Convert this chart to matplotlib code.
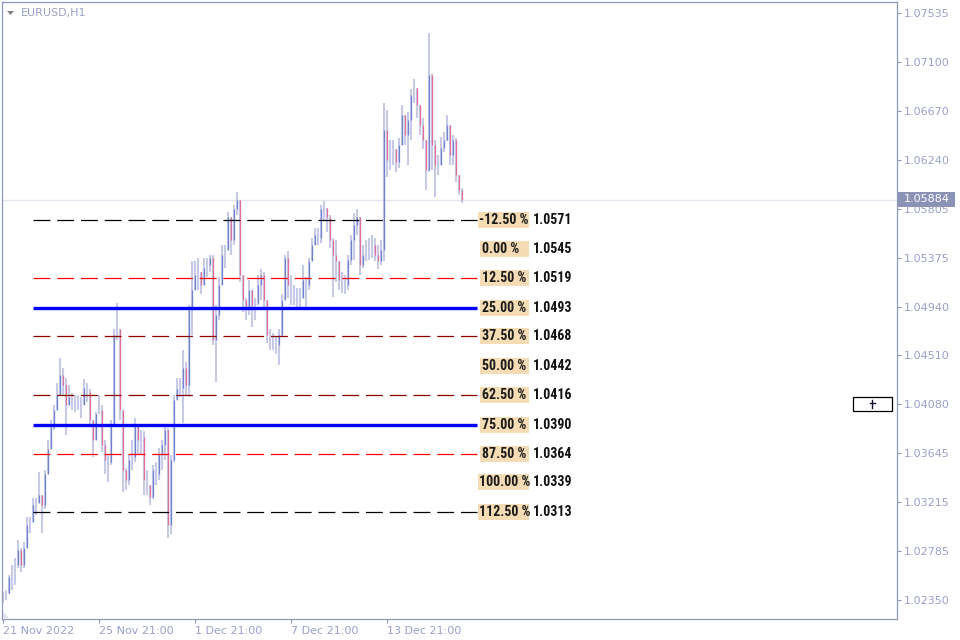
import matplotlib
matplotlib.use("Agg")
import matplotlib.pyplot as plt
from matplotlib.patches import Rectangle, Polygon
from matplotlib import font_manager
import numpy as np

# ---------------- data (EURUSD H1, sampled every 3 hours) ----------------
hours_per_bar = 3
first_open = 1.0235
highs = [1.0242, 1.0244, 1.0257, 1.0266, 1.0272, 1.0288, 1.0281, 1.0286, 1.0308, 1.0308,
         1.0325, 1.0325, 1.0348, 1.0328, 1.0350, 1.0376, 1.0394, 1.0407, 1.0427, 1.0449,
         1.0440, 1.0431, 1.0425, 1.0418, 1.0416, 1.0416, 1.0414, 1.0430, 1.0427, 1.0421,
         1.0390, 1.0401, 1.0416, 1.0407, 1.0376, 1.0363, 1.0394, 1.0474, 1.0497, 1.0474,
         1.0400, 1.0352, 1.0363, 1.0376, 1.0396, 1.0390, 1.0385, 1.0384, 1.0350, 1.0337,
         1.0354, 1.0357, 1.0369, 1.0376, 1.0390, 1.0387, 1.0363, 1.0416, 1.0431, 1.0431,
         1.0456, 1.0445, 1.0496, 1.0534, 1.0534, 1.0537, 1.0522, 1.0537, 1.0537, 1.0540,
         1.0540, 1.0496, 1.0520, 1.0549, 1.0549, 1.0578, 1.0573, 1.0584, 1.0595, 1.0588,
         1.0513, 1.0502, 1.0518, 1.0509, 1.0502, 1.0522, 1.0527, 1.0525, 1.0500, 1.0474,
         1.0471, 1.0467, 1.0474, 1.0505, 1.0540, 1.0543, 1.0522, 1.0513, 1.0511, 1.0511,
         1.0531, 1.0520, 1.0537, 1.0555, 1.0564, 1.0564, 1.0584, 1.0587, 1.0581, 1.0575,
         1.0555, 1.0553, 1.0531, 1.0525, 1.0522, 1.0540, 1.0557, 1.0577, 1.0580, 1.0571,
         1.0549, 1.0553, 1.0555, 1.0557, 1.0555, 1.0549, 1.0553, 1.0674, 1.0668, 1.0641,
         1.0641, 1.0633, 1.0643, 1.0672, 1.0663, 1.0666, 1.0686, 1.0695, 1.0687, 1.0668,
         1.0661, 1.0633, 1.0736, 1.0700, 1.0641, 1.0628, 1.0644, 1.0648, 1.0663, 1.0655,
         1.0646, 1.0643, 1.0610, 1.0599]
lows = [1.0232, 1.0235, 1.0240, 1.0244, 1.0248, 1.0263, 1.0260, 1.0263, 1.0284, 1.0294,
        1.0304, 1.0310, 1.0324, 1.0294, 1.0315, 1.0346, 1.0368, 1.0385, 1.0403, 1.0421,
        1.0416, 1.0381, 1.0407, 1.0403, 1.0401, 1.0403, 1.0396, 1.0412, 1.0410, 1.0390,
        1.0361, 1.0376, 1.0399, 1.0366, 1.0346, 1.0339, 1.0354, 1.0390, 1.0465, 1.0394,
        1.0330, 1.0332, 1.0337, 1.0350, 1.0357, 1.0363, 1.0363, 1.0328, 1.0328, 1.0319,
        1.0324, 1.0337, 1.0341, 1.0350, 1.0359, 1.0290, 1.0293, 1.0357, 1.0412, 1.0414,
        1.0391, 1.0416, 1.0414, 1.0469, 1.0509, 1.0509, 1.0505, 1.0518, 1.0520, 1.0525,
        1.0460, 1.0428, 1.0482, 1.0527, 1.0528, 1.0553, 1.0540, 1.0549, 1.0575, 1.0516,
        1.0489, 1.0482, 1.0487, 1.0476, 1.0482, 1.0496, 1.0500, 1.0493, 1.0462, 1.0456,
        1.0456, 1.0452, 1.0443, 1.0467, 1.0500, 1.0502, 1.0496, 1.0496, 1.0493, 1.0493,
        1.0505, 1.0491, 1.0509, 1.0534, 1.0549, 1.0549, 1.0550, 1.0571, 1.0560, 1.0546,
        1.0503, 1.0516, 1.0509, 1.0506, 1.0505, 1.0509, 1.0531, 1.0535, 1.0557, 1.0522,
        1.0528, 1.0534, 1.0535, 1.0537, 1.0534, 1.0527, 1.0531, 1.0534, 1.0609, 1.0615,
        1.0619, 1.0613, 1.0617, 1.0641, 1.0637, 1.0619, 1.0641, 1.0674, 1.0661, 1.0646,
        1.0633, 1.0597, 1.0613, 1.0615, 1.0591, 1.0610, 1.0624, 1.0631, 1.0640, 1.0619,
        1.0619, 1.0604, 1.0593, 1.0586]
closes = [1.0238, 1.0241, 1.0255, 1.0260, 1.0266, 1.0279, 1.0266, 1.0281, 1.0301, 1.0304,
          1.0319, 1.0321, 1.0328, 1.0319, 1.0346, 1.0368, 1.0388, 1.0403, 1.0416, 1.0434,
          1.0425, 1.0407, 1.0414, 1.0410, 1.0407, 1.0410, 1.0407, 1.0422, 1.0419, 1.0394,
          1.0376, 1.0399, 1.0403, 1.0372, 1.0359, 1.0357, 1.0390, 1.0469, 1.0474, 1.0403,
          1.0350, 1.0341, 1.0359, 1.0361, 1.0390, 1.0376, 1.0379, 1.0341, 1.0337, 1.0326,
          1.0350, 1.0346, 1.0363, 1.0372, 1.0385, 1.0301, 1.0359, 1.0412, 1.0421, 1.0422,
          1.0440, 1.0425, 1.0491, 1.0509, 1.0522, 1.0525, 1.0513, 1.0528, 1.0531, 1.0537,
          1.0465, 1.0487, 1.0513, 1.0540, 1.0544, 1.0573, 1.0553, 1.0580, 1.0588, 1.0522,
          1.0500, 1.0493, 1.0509, 1.0496, 1.0497, 1.0513, 1.0522, 1.0500, 1.0469, 1.0465,
          1.0460, 1.0460, 1.0469, 1.0500, 1.0537, 1.0513, 1.0507, 1.0502, 1.0500, 1.0502,
          1.0518, 1.0513, 1.0534, 1.0549, 1.0557, 1.0555, 1.0580, 1.0581, 1.0573, 1.0553,
          1.0540, 1.0534, 1.0518, 1.0513, 1.0513, 1.0535, 1.0553, 1.0566, 1.0573, 1.0531,
          1.0540, 1.0544, 1.0546, 1.0549, 1.0540, 1.0534, 1.0544, 1.0650, 1.0624, 1.0628,
          1.0633, 1.0622, 1.0637, 1.0663, 1.0646, 1.0659, 1.0681, 1.0687, 1.0672, 1.0655,
          1.0641, 1.0615, 1.0699, 1.0637, 1.0619, 1.0619, 1.0634, 1.0641, 1.0655, 1.0628,
          1.0641, 1.0610, 1.0597, 1.05884]

time_tick_hours = [0, 96, 192, 288, 384]
time_tick_labels = ["21 Nov 2022", "25 Nov 21:00", "1 Dec 21:00", "7 Dec 21:00", "13 Dec 21:00"]

price_ticks = [1.07535, 1.07100, 1.06670, 1.06240, 1.05805, 1.05375, 1.04940,
               1.04510, 1.04080, 1.03645, 1.03215, 1.02785, 1.02350]
price_tick_labels = ["1.07535", "1.07100", "1.06670", "1.06240", "1.05805", "1.05375", "1.04940",
                     "1.04510", "1.04080", "1.03645", "1.03215", "1.02785", "1.02350"]

level_labels = ["-12.50 %", "0.00 %", "12.50 %", "25.00 %", "37.50 %", "50.00 %",
                "62.50 %", "75.00 %", "87.50 %", "100.00 %", "112.50 %"]
level_prices = [1.0571, 1.0545, 1.0519, 1.0493, 1.0468, 1.0442, 1.0416, 1.0390, 1.0364, 1.0339, 1.0313]
level_value_labels = ["1.0571", "1.0545", "1.0519", "1.0493", "1.0468", "1.0442",
                      "1.0416", "1.0390", "1.0364", "1.0339", "1.0313"]
last_price = closes[-1]
last_price_label = "1.05884"
symbol_label = "EURUSD,H1"

# ---------------- styles ----------------
level_colors = ["#000000", None, "#ff0000", "#0000ff", "#8b0000", None,
                "#8b0000", "#0000ff", "#ff0000", None, "#000000"]
W, H = 960, 640
FRAME = "#8f98b8"
TXT = "#9aa0c8"
WICK = "#c6cae6"
BULL = "#6f82d0"
BEAR = "#e0709a"

installed = {f.name for f in font_manager.fontManager.ttflist}
if "Roboto Condensed" in installed:
    lab_font, lab_size = ["Roboto Condensed", "DejaVu Sans"], 10.0
elif "Liberation Sans Narrow" in installed:
    lab_font, lab_size = ["Liberation Sans Narrow", "DejaVu Sans"], 10.0
else:
    lab_font, lab_size = ["Roboto", "DejaVu Sans"], 8.6

fig = plt.figure(figsize=(W / 100, H / 100), dpi=100)
fig.patch.set_facecolor("white")
L, R, T, B = 2, 897, 2, 619
ax = fig.add_axes([L / W, 1 - B / H, (R - L) / W, (B - T) / H])
ax.set_facecolor("white")

ax.set_xlim(-1, 894)
ax.set_ylim(1.021822, 1.076321)
px_per_price = (B - T) / (1.076321 - 1.021822)

def fpx(x, y):
    return x / W, 1 - y / H

# current price line
ax.axhline(last_price, color="#e4e4ee", lw=1.0, zorder=1)

# candles
n = len(closes)
xs = np.arange(n) * hours_per_bar
opens = [first_open] + closes[:-1]
tops = [max(h, o, c) for h, o, c in zip(highs, opens, closes)]
bots = [min(l, o, c) for l, o, c in zip(lows, opens, closes)]
ax.vlines(xs, bots, tops, color=WICK, lw=1.5, zorder=2)
for xi, o, c in zip(xs, opens, closes):
    if abs(c - o) >= 0.0006:
        ax.vlines(xi, min(o, c), max(o, c), color=BULL if c > o else BEAR, lw=0.9, zorder=2.5)

# levels
x_start, x_end = 30, 474
for p, col in zip(level_prices, level_colors):
    if col is None:
        continue
    if col == "#0000ff":
        ax.hlines(p, x_start, x_end, color=col, lw=2.4, zorder=3)
    else:
        ax.hlines(p, x_start, x_end, color=col, lw=0.9, linestyles=(0, (13.5, 5.5)), zorder=3)

half_box = 8 / px_per_price
for lab, p, val in zip(level_labels, level_prices, level_value_labels):
    left = 477 if len(lab) < 8 else 475
    ax.add_patch(Rectangle((left, p - half_box), 526 - left, 2 * half_box,
                           facecolor="#f5dcb4", edgecolor="none", zorder=4))
    ax.text(left + (2 if len(lab) < 8 else 1), p, lab, ha="left", va="center",
            fontsize=lab_size, fontweight="bold", family=lab_font, color="#1a1a1a", zorder=5)
    ax.text(530, p, val, ha="left", va="center", fontsize=lab_size, fontweight="bold",
            family=lab_font, color="#111111", zorder=5)

# axes styling
for s in ax.spines.values():
    s.set_color(FRAME)
    s.set_linewidth(0.9)
ax.yaxis.tick_right()
ax.set_yticks(price_ticks)
ax.set_yticklabels(price_tick_labels)
ax.set_xticks(time_tick_hours)
ax.set_xticklabels(time_tick_labels)
for lbl in ax.get_xticklabels():
    lbl.set_ha("left")
ax.tick_params(axis="both", colors=FRAME, labelcolor=TXT, labelsize=8, length=3, width=0.8)
ax.tick_params(axis="y", pad=2)
ax.tick_params(axis="x", pad=2)

# top-left symbol
fig.patches.append(Polygon([fpx(7, 11), fpx(14, 11), fpx(10.5, 15)], closed=True,
                           transform=fig.transFigure, facecolor="#808080", edgecolor="none"))
fig.text(*fpx(21, 13), symbol_label, ha="left", va="center", fontsize=8, color=TXT)

# bottom-left marker
fig.patches.append(Polygon([fpx(3, 612), fpx(3, 618), fpx(9, 618)], closed=True,
                           transform=fig.transFigure, facecolor="#dcdff0", edgecolor="none"))

# last price box on axis
fig.patches.append(Rectangle(fpx(898, 207), 57 / W, 15 / H, transform=fig.transFigure,
                             facecolor="#8a92b6", edgecolor="none", zorder=5))
fig.text(*fpx(904, 199.5), last_price_label, ha="left", va="center", fontsize=8,
         color="white", zorder=6)

# small button box at right
fig.patches.append(Rectangle(fpx(853, 411), 39 / W, 14 / H, transform=fig.transFigure,
                             facecolor="white", edgecolor="black", lw=0.9, zorder=5))
fig.lines.append(plt.Line2D([872 / W, 872 / W], [1 - 400 / H, 1 - 408 / H],
                            transform=fig.transFigure, color="#101030", lw=1.0, zorder=6))
fig.lines.append(plt.Line2D([870 / W, 874.5 / W], [1 - 403 / H, 1 - 403 / H],
                            transform=fig.transFigure, color="#101030", lw=1.0, zorder=6))

fig.savefig("out.png", dpi=100, facecolor="white")
